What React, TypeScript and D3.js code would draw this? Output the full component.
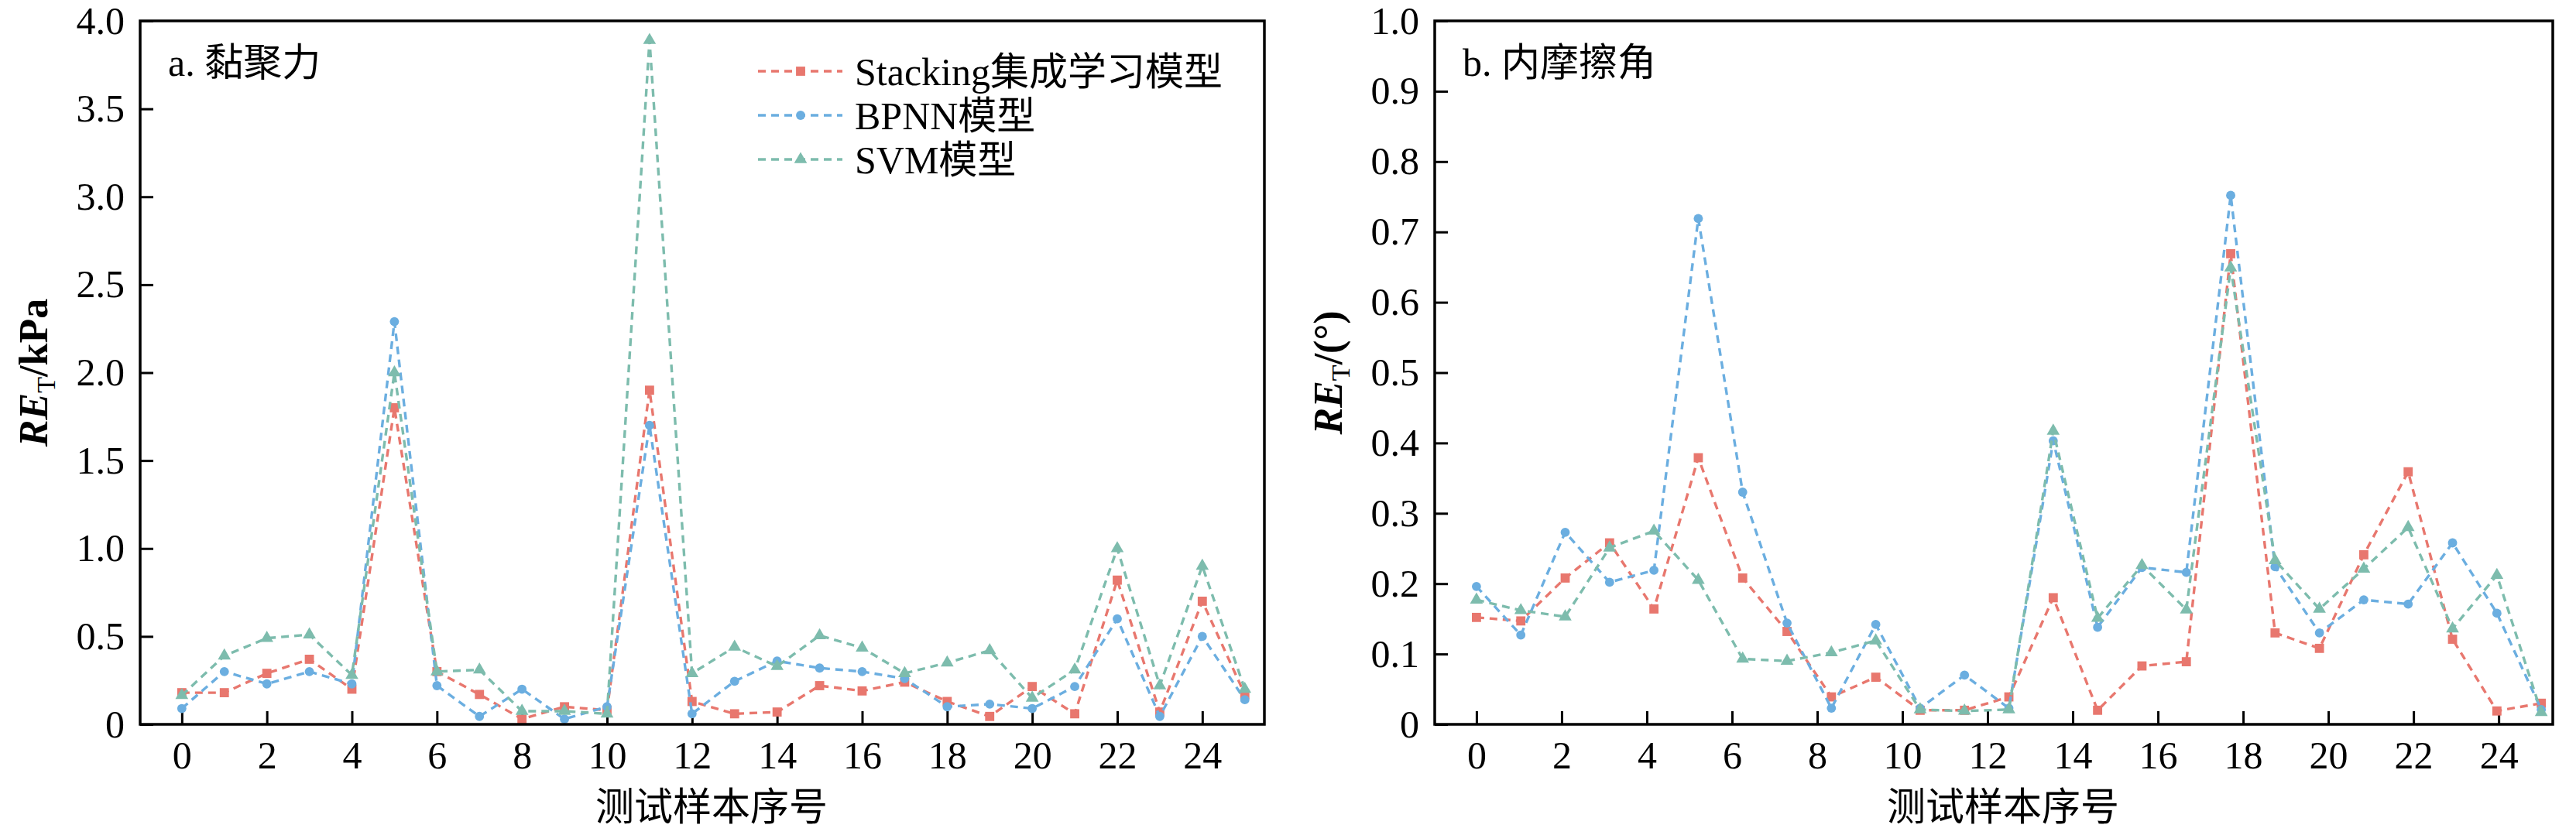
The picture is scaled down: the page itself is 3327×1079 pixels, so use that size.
import { useEffect, useRef } from 'react';
import * as d3 from 'd3';

// panel a: 黏聚力 (26 samples, 0..25)
const samplesA = d3.range(26);
const stackingA = [0.18, 0.18, 0.29, 0.37, 0.20, 1.80, 0.30, 0.17, 0.03, 0.10, 0.08, 1.90, 0.13, 0.06, 0.07, 0.22, 0.19, 0.24, 0.13, 0.045, 0.215, 0.06, 0.82, 0.07, 0.70, 0.17];
const bpnnA = [0.09, 0.30, 0.23, 0.30, 0.23, 2.29, 0.22, 0.045, 0.20, 0.03, 0.10, 1.70, 0.06, 0.245, 0.36, 0.32, 0.30, 0.26, 0.10, 0.115, 0.09, 0.215, 0.60, 0.045, 0.50, 0.14];
const svmA = [0.165, 0.39, 0.49, 0.51, 0.28, 2.00, 0.30, 0.31, 0.075, 0.075, 0.06, 3.89, 0.29, 0.44, 0.33, 0.505, 0.435, 0.29, 0.35, 0.42, 0.15, 0.31, 1.00, 0.22, 0.90, 0.20];

// panel b: 内摩擦角 (25 samples spread over 0..25)
const samplesB = d3.range(25);
const stackingB = [0.152, 0.147, 0.208, 0.258, 0.164, 0.379, 0.208, 0.132, 0.039, 0.067, 0.020, 0.020, 0.039, 0.180, 0.020, 0.083, 0.089, 0.669, 0.130, 0.108, 0.241, 0.359, 0.121, 0.019, 0.030];
const bpnnB = [0.196, 0.127, 0.273, 0.202, 0.219, 0.719, 0.330, 0.144, 0.023, 0.142, 0.023, 0.070, 0.023, 0.403, 0.138, 0.223, 0.216, 0.752, 0.224, 0.130, 0.177, 0.171, 0.258, 0.158, 0.021];
const svmB = [0.177, 0.162, 0.153, 0.251, 0.275, 0.205, 0.093, 0.090, 0.102, 0.119, 0.021, 0.019, 0.021, 0.417, 0.151, 0.226, 0.163, 0.649, 0.233, 0.164, 0.221, 0.280, 0.136, 0.212, 0.017];

const xTicks = d3.range(0, 25, 2);
const yTicksA = d3.range(0, 4.01, 0.5);
const yTicksB = d3.range(0, 1.001, 0.1);

const seriesNames = ['Stacking集成学习模型', 'BPNN模型', 'SVM模型'];
const seriesColors = ['#e8776e', '#6baee0', '#7dbcad'];
const seriesSymbols = [d3.symbolSquare, d3.symbolCircle, d3.symbolTriangle];
const symbolSizes = [140, 110, 120];

const FONT = "'Liberation Serif', 'Times New Roman', 'DejaVu Serif', 'Noto Sans CJK SC', serif";

export default function App() {
  const ref = useRef<SVGSVGElement>(null);

  useEffect(() => {
    document.body.style.margin = '0';
    const svg = d3.select(ref.current);
    svg.selectAll('*').remove();

    const top = 27, bottom = 936;

    const panels = [
      {
        left: 181, right: 1633, xDomain: [-0.98, 25.46], yMax: 4, yTicks: yTicksA,
        title: 'a. 黏聚力', unit: '/kPa', samples: samplesA, pos: (i: number) => i,
        series: [stackingA, bpnnA, svmA], legend: true,
      },
      {
        left: 1853, right: 3297, xDomain: [-0.98, 25.27], yMax: 1, yTicks: yTicksB,
        title: 'b. 内摩擦角', unit: '/(°)', samples: samplesB, pos: d3.scaleLinear().domain([0, 24]).range([0, 25]),
        series: [stackingB, bpnnB, svmB], legend: false,
      },
    ];

    panels.forEach(p => {
      const x = d3.scaleLinear().domain(p.xDomain).range([p.left, p.right]);
      const y = d3.scaleLinear().domain([0, p.yMax]).range([bottom, top]);

      const fmt = (d: d3.NumberValue) => (+d === 0 ? '0' : (+d).toFixed(1));

      svg.append('g').attr('transform', `translate(0,${bottom})`)
        .call(d3.axisBottom(x).tickValues(xTicks).tickSizeInner(-17).tickSizeOuter(0).tickPadding(21).tickFormat(d => String(d)))
        .call(g => g.select('.domain').remove())
        .call(g => g.selectAll('line').attr('stroke', '#000').attr('stroke-width', 3))
        .call(g => g.selectAll('text').style('font-family', FONT).style('font-size', '50px').attr('fill', '#000'));

      svg.append('g').attr('transform', `translate(${p.left},0)`)
        .call(d3.axisLeft(y).tickValues(p.yTicks).tickSizeInner(-17).tickSizeOuter(0).tickPadding(20).tickFormat(fmt))
        .call(g => g.select('.domain').remove())
        .call(g => g.selectAll('line').attr('stroke', '#000').attr('stroke-width', 3))
        .call(g => g.selectAll('text').style('font-family', FONT).style('font-size', '50px').attr('fill', '#000'));

      // series
      p.series.forEach((vals, s) => {
        const pts = p.samples.map(i => ({ x: p.pos(i), v: vals[i] }));
        const line = d3.line<{ x: number; v: number }>().x(d => x(d.x)).y(d => y(d.v));
        svg.append('path').datum(pts).attr('d', line)
          .attr('fill', 'none').attr('stroke', seriesColors[s]).attr('stroke-width', 3.4)
          .attr('stroke-dasharray', '10,7');
        const sym = d3.symbol().type(seriesSymbols[s]).size(symbolSizes[s]);
        svg.append('g').selectAll('path').data(pts).enter().append('path')
          .attr('d', sym).attr('transform', d => `translate(${x(d.x)},${y(d.v)})`)
          .attr('fill', seriesColors[s]);
      });

      // frame
      svg.append('rect').attr('x', p.left).attr('y', top)
        .attr('width', p.right - p.left).attr('height', bottom - top)
        .attr('fill', 'none').attr('stroke', '#000').attr('stroke-width', 3.5);

      svg.append('text').attr('x', p.left + 36).attr('y', 98)
        .style('font-family', FONT).style('font-size', '50px').text(p.title);

      svg.append('text').attr('x', (p.left + p.right) / 2 + 12).attr('y', 1060)
        .attr('text-anchor', 'middle').style('font-family', FONT).style('font-size', '50px').text('测试样本序号');

      const yl = svg.append('text')
        .attr('transform', `translate(${p.left - 120},${(top + bottom) / 2}) rotate(-90)`)
        .attr('text-anchor', 'middle').style('font-family', FONT).style('font-size', '52px').attr('font-weight', 'bold');
      yl.append('tspan').attr('font-style', 'italic').text('RE');
      yl.append('tspan').style('font-size', '34px').attr('font-weight', 'normal').attr('dy', 10).text('T');
      yl.append('tspan').attr('dy', -10).text(p.unit);

      if (p.legend) {
        seriesNames.forEach((name, s) => {
          const cy = 92 + s * 57;
          svg.append('line').attr('x1', 979).attr('x2', 1088).attr('y1', cy).attr('y2', cy)
            .attr('stroke', seriesColors[s]).attr('stroke-width', 3.4).attr('stroke-dasharray', '10,7');
          svg.append('path').attr('d', d3.symbol().type(seriesSymbols[s]).size(symbolSizes[s])())
            .attr('transform', `translate(1034,${cy})`).attr('fill', seriesColors[s]);
          svg.append('text').attr('x', 1104).attr('y', cy).attr('dy', '0.35em')
            .style('font-family', FONT).style('font-size', '50px').text(name);
        });
      }
    });
  }, []);

  return <svg ref={ref} width={3327} height={1079} style={{ display: 'block', background: '#fff' }} />;
}
